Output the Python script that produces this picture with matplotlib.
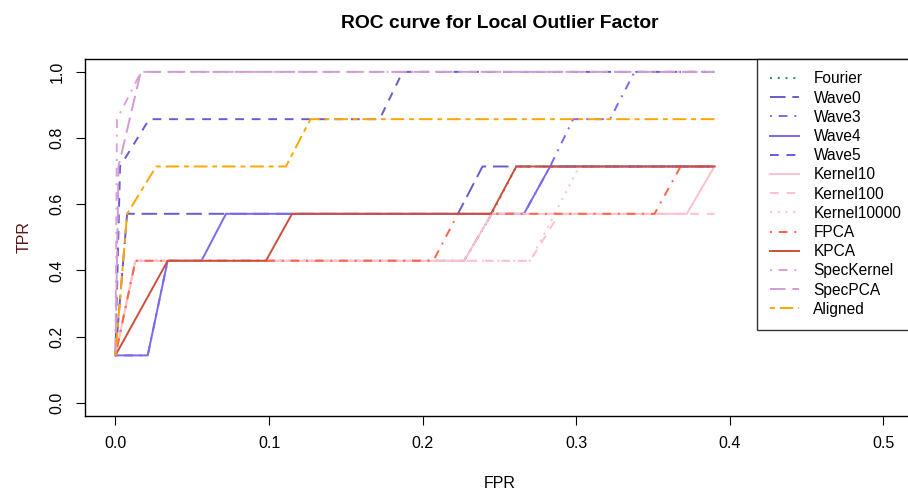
import matplotlib
matplotlib.use("Agg")
import matplotlib.pyplot as plt

plt.rcParams['font.family'] = ['Liberation Sans', 'DejaVu Sans']

# ROC points (FPR, TPR)
fourier_fpr = [0, 0.013, 0.227, 0.245, 0.261, 0.39]
fourier_tpr = [0.143, 0.429, 0.429, 0.571, 0.714, 0.714]
wave0_fpr = [0, 0.0076, 0.223, 0.239, 0.39]
wave0_tpr = [0.143, 0.571, 0.571, 0.714, 0.714]
wave3_fpr = [0, 0.021, 0.034, 0.227, 0.245, 0.266, 0.283, 0.298, 0.322, 0.338, 0.39]
wave3_tpr = [0.143, 0.143, 0.429, 0.429, 0.571, 0.571, 0.714, 0.857, 0.857, 1.0, 1.0]
wave4_fpr = [0, 0.021, 0.034, 0.056, 0.072, 0.266, 0.283, 0.39]
wave4_tpr = [0.143, 0.143, 0.429, 0.429, 0.571, 0.571, 0.714, 0.714]
wave5_fpr = [0, 0.003, 0.022, 0.172, 0.187, 0.39]
wave5_tpr = [0.143, 0.714, 0.857, 0.857, 1.0, 1.0]
kernel10_fpr = [0, 0.013, 0.227, 0.245, 0.372, 0.39]
kernel10_tpr = [0.143, 0.429, 0.429, 0.571, 0.571, 0.714]
kernel100_fpr = [0, 0.013, 0.27, 0.289, 0.39]
kernel100_tpr = [0.143, 0.429, 0.429, 0.571, 0.571]
kernel10000_fpr = [0, 0.013, 0.27, 0.286, 0.302, 0.39]
kernel10000_tpr = [0.143, 0.429, 0.429, 0.571, 0.714, 0.714]
fpca_fpr = [0, 0.013, 0.207, 0.223, 0.351, 0.368, 0.39]
fpca_tpr = [0.143, 0.429, 0.429, 0.571, 0.571, 0.714, 0.714]
kpca_fpr = [0, 0.034, 0.098, 0.115, 0.2445, 0.261, 0.39]
kpca_tpr = [0.143, 0.429, 0.429, 0.571, 0.571, 0.714, 0.714]
speckernel_fpr = [0, 0.001, 0.0167, 0.39]
speckernel_tpr = [0.143, 0.857, 1.0, 1.0]
specpca_fpr = [0, 0.002, 0.0165, 0.39]
specpca_tpr = [0.143, 0.714, 1.0, 1.0]
aligned_fpr = [0, 0.0076, 0.0265, 0.111, 0.127, 0.39]
aligned_tpr = [0.143, 0.571, 0.714, 0.714, 0.857, 0.857]

names = ["Fourier", "Wave0", "Wave3", "Wave4", "Wave5", "Kernel10", "Kernel100",
         "Kernel10000", "FPCA", "KPCA", "SpecKernel", "SpecPCA", "Aligned"]
fprs = [fourier_fpr, wave0_fpr, wave3_fpr, wave4_fpr, wave5_fpr, kernel10_fpr,
        kernel100_fpr, kernel10000_fpr, fpca_fpr, kpca_fpr, speckernel_fpr,
        specpca_fpr, aligned_fpr]
tprs = [fourier_tpr, wave0_tpr, wave3_tpr, wave4_tpr, wave5_tpr, kernel10_tpr,
        kernel100_tpr, kernel10000_tpr, fpca_tpr, kpca_tpr, speckernel_tpr,
        specpca_tpr, aligned_tpr]
colors = ["#2E8B57", "#6A5ACD", "#7B68EE", "#7B68EE", "#6A5ACD", "#FFC0CB", "#FFC0CB",
          "#FFC0CB", "#FF6347", "#CD4F39", "#DDA0DD", "#D09CD6", "#FFA500"]

# R line types (in units of line width)
dotted = (0, (1, 3))
dashed = (0, (4.5, 4))
dotdash = (0, (1, 3.5, 4.5, 3.5))
longdash = (0, (8, 3.5))
twodash = (0, (2.5, 2.5, 7, 2.5))
solid = "-"
styles = [dotted, longdash, dotdash, solid, dashed, solid, dashed,
          dotted, dotdash, solid, dotdash, longdash, twodash]

fig = plt.figure(figsize=(9.08, 4.94), dpi=100)
ax = fig.add_axes([0.0933, 0.158, 0.9134, 0.7233])

for x, y, c, ls, name in zip(fprs, tprs, colors, styles, names):
    ax.plot(x, y, color=c, linestyle=ls, linewidth=1.4, label=name)

ax.set_xlim(-0.02, 0.52)
ax.set_ylim(-0.04, 1.04)
ax.set_xticks([0.0, 0.1, 0.2, 0.3, 0.4, 0.5])
ax.set_xticklabels(["0.0", "0.1", "0.2", "0.3", "0.4", "0.5"])
ax.set_yticks([0.0, 0.2, 0.4, 0.6, 0.8, 1.0])
ax.set_yticklabels(["0.0", "0.2", "0.4", "0.6", "0.8", "1.0"], rotation=90, va="center")
ax.tick_params(direction="out", length=6.5, width=0.8, labelsize=11.5, pad=8)
for s in ax.spines.values():
    s.set_linewidth(1.0)

ax.set_title("ROC curve for Local Outlier Factor", fontsize=13.9, fontweight="bold", pad=22)
ax.set_xlabel("FPR", fontsize=11.5, labelpad=18)
ax.set_ylabel("TPR", fontsize=11.5, color="#5a1414", labelpad=13)

leg = ax.legend(loc="upper right", borderaxespad=0, fancybox=False, fontsize=11.2,
                labelspacing=0.27, handlelength=1.9, handletextpad=0.9, borderpad=0.82)
leg.get_frame().set_edgecolor("black")
leg.get_frame().set_linewidth(1.0)

fig.savefig("out.png", dpi=100)
